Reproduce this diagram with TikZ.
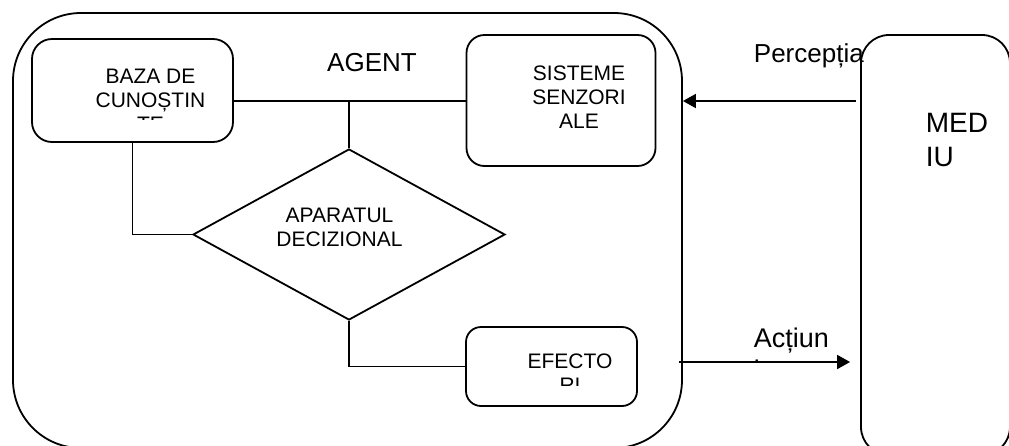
\documentclass[tikz,border=0pt]{standalone}
\usepackage{fontspec}
\setmainfont{Liberation Sans}
\usetikzlibrary{shapes.geometric}
\usetikzlibrary{arrows.meta}

\begin{document}
\begin{tikzpicture}[x=1pt,y=-1pt,line width=1.8pt,
    box/.style={draw,rounded corners=#1,inner sep=0pt},
    txt/.style={align=center,inner sep=0pt,font=\fontsize{21}{24}\selectfont},
    big/.style={inner sep=0pt,font=\fontsize{26}{32}\selectfont},
    arr/.style={-{Triangle[length=13pt,width=14pt]}}]
      \useasboundingbox (0,0) rectangle (1009,445);
      \clip (0,0) rectangle (1009,445);

      % outer frames
      \node[box=68pt,minimum width=669pt,minimum height=435pt] (agent) at (347.5,230.5) {};
      \node[box=28pt,minimum width=149pt,minimum height=420pt] (mediu) at (935.5,245) {};

      % inner blocks
      \node[box=20pt,minimum width=201pt,minimum height=103pt] (baza) at (132.5,90.5) {};
      \node[box=18pt,minimum width=189pt,minimum height=131pt] (senz) at (561,100.5) {};
      \node[box=15pt,minimum width=171pt,minimum height=79pt] (efec) at (551.5,366.5) {};
      \node[draw,diamond,inner sep=0pt,minimum width=312pt,minimum height=171pt] (dec) at (349,234.5) {};

      % texts
      \begin{scope}
        \clip (32,39) rectangle (233,119);
        \node[txt,anchor=north] (bazat) at (150.5,67.7) {BAZA DE\\CUNOȘTIN\\TE};
      \end{scope}
      \node[txt,anchor=north] (senzt) at (579,65) {SISTEME\\SENZORI\\ALE};
      \node[txt,anchor=north] (dect) at (339.5,207) {APARATUL\\DECIZIONAL};
      \begin{scope}
        \clip (466,327) rectangle (637,385);
        \node[txt,anchor=north] (efect) at (570,353) {EFECTO\\RI};
      \end{scope}
      \node[big,anchor=base] (agentt) at (372,71.5) {AGENT};
      \node[big,anchor=base west] (percep) at (753,62) {Percepția};
      \begin{scope}
        \clip (740,300) rectangle (860,360.5);
        \node[big,align=left,anchor=north west,font=\fontsize{27}{32}\selectfont] (actiun) at (753,326.7) {Acțiun\\i};
      \end{scope}
      \node[big,align=left,anchor=north west,font=\fontsize{28}{34}\selectfont] (mediut) at (925,112) {MED\\IU};

      % connections
      \coordinate (bus) at (349,101);
      \draw (bus -| baza.east) -- (bus -| senz.west);
      \draw (bus) -- (dec.north);
      \draw (baza.south) |- (dec.west);
      \draw (dec.south) |- (efec.west);

      \coordinate (pin) at (0,101);
      \coordinate (pout) at (0,362);
      \draw[arr,shorten <=4pt] (mediu.west |- pin) -- (agent.east |- pin);
      \draw[arr,shorten >=10pt] ([xshift=-4pt]agent.east |- pout) -- (mediu.west |- pout);
\end{tikzpicture}
\end{document}
